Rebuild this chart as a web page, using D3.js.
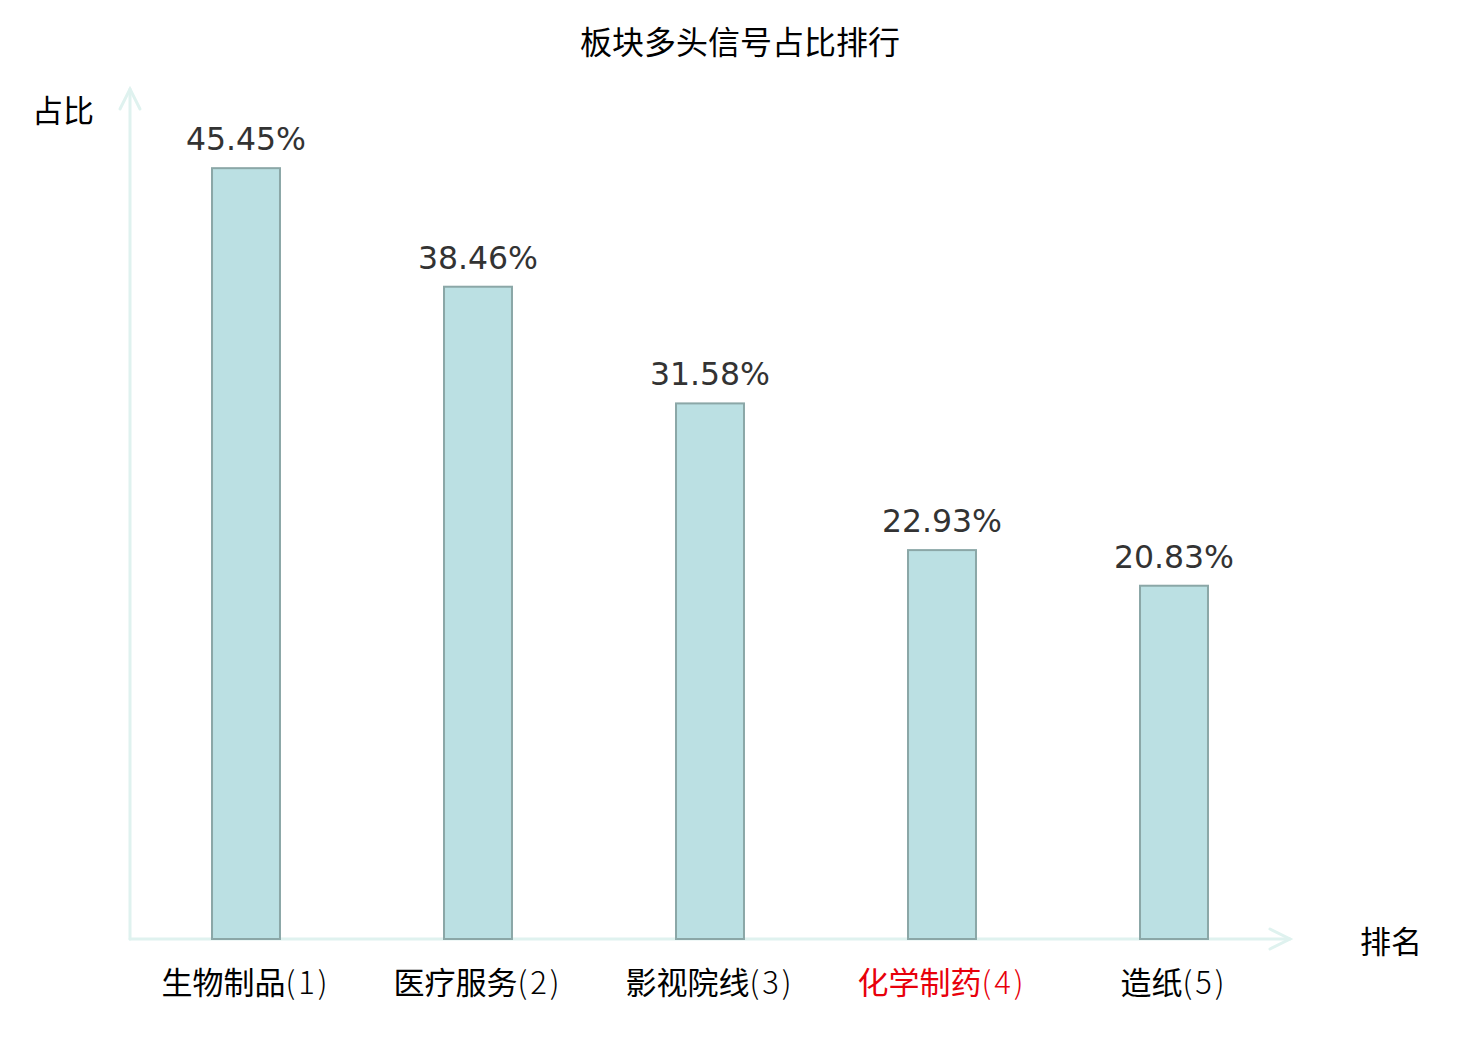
<!DOCTYPE html>
<html>
<head>
<meta charset="utf-8">
<script src="https://cdn.jsdelivr.net/npm/d3@7"></script>
<style>
  body { margin: 0; background: #fff; }
  text { font-family: "DejaVu Sans", "Noto Sans CJK SC", sans-serif; }
</style>
</head>
<body>
<div id="container"></div>
<script>
/* DATA */
const sectors = ["生物制品", "医疗服务", "影视院线", "化学制药", "造纸"];
const ranks = [1, 2, 3, 4, 5];
const shares = [45.45, 38.46, 31.58, 22.93, 20.83];
const highlight = "化学制药";   // drawn in red
const yMax = 50;

/* CONSTANTS */
const width = 1480,
  height = 1040,
  margin = {top: 91, bottom: 101, left: 130, right: 190};

const axisColor = "#dff2ef",
  barFill = "#bbe0e3",
  barStroke = "#8ba7a7",
  cjk = "'Noto Sans CJK SC', sans-serif";

const data = sectors.map((s, i) => ({sector: s, rank: ranks[i], share: shares[i]}));

// SCALES
const xScale = d3.scaleBand()
  .domain(sectors)
  .range([margin.left, width - margin.right])
  .padding(0);

const yScale = d3.scaleLinear()
  .domain([0, yMax])
  .range([height - margin.bottom, margin.top]);

const barW = xScale.bandwidth() * 0.293;

// SVG
const svg = d3.select("#container")
  .append("svg")
  .attr("width", width)
  .attr("height", height);

// title
svg.append("text")
  .attr("x", width / 2)
  .attr("y", 54)
  .attr("text-anchor", "middle")
  .style("font-family", cjk)
  .style("font-size", "32px")
  .style("font-weight", 400)
  .attr("fill", "#000")
  .text("板块多头信号占比排行");

// AXES (line + open arrow heads)
const x0 = margin.left, y0 = yScale(0);
const xEnd = width - margin.right, yEnd = yScale(yMax) - 2;
const axes = svg.append("g")
  .attr("stroke", axisColor)
  .attr("stroke-width", 3)
  .attr("fill", "none")
  .attr("stroke-linecap", "round");

axes.append("line").attr("x1", x0).attr("y1", y0).attr("x2", xEnd).attr("y2", y0);
axes.append("line").attr("x1", x0).attr("y1", y0).attr("x2", x0).attr("y2", yEnd);
axes.append("path")
  .attr("d", `M${xEnd - 20},${y0 - 10}L${xEnd},${y0}L${xEnd - 20},${y0 + 10}`);
axes.append("path")
  .attr("d", `M${x0 - 10},${yEnd + 20}L${x0},${yEnd}L${x0 + 10},${yEnd + 20}`);

// axis names
svg.append("text")
  .attr("x", 63).attr("y", 122)
  .attr("text-anchor", "middle")
  .style("font-family", cjk)
  .style("font-size", "31px")
  .text("占比");

svg.append("text")
  .attr("x", 1391).attr("y", 953)
  .attr("text-anchor", "middle")
  .style("font-family", cjk)
  .style("font-size", "31px")
  .text("排名");

// BARS
svg.selectAll("rect.bar")
  .data(data)
  .join("rect")
  .attr("class", "bar")
  .attr("x", d => xScale(d.sector) + xScale.bandwidth() / 2 - barW / 2)
  .attr("y", d => yScale(d.share))
  .attr("width", barW)
  .attr("height", d => yScale(0) - yScale(d.share))
  .attr("fill", barFill)
  .attr("stroke", barStroke)
  .attr("stroke-width", 2);

// VALUE LABELS
svg.selectAll("text.value")
  .data(data)
  .join("text")
  .attr("class", "value")
  .attr("x", d => xScale(d.sector) + xScale.bandwidth() / 2)
  .attr("y", d => yScale(d.share) - 18)
  .attr("text-anchor", "middle")
  .style("font-family", "'DejaVu Sans', sans-serif")
  .style("font-size", "31.5px")
  .attr("fill", "#333")
  .text(d => d.share.toFixed(2) + "%");

// CATEGORY LABELS
const cats = svg.selectAll("text.cat")
  .data(data)
  .join("text")
  .attr("class", "cat")
  .attr("x", d => xScale(d.sector) + xScale.bandwidth() / 2)
  .attr("y", 994)
  .attr("text-anchor", "middle")
  .style("font-family", cjk)
  .style("font-size", "31px")
  .attr("fill", d => d.sector === highlight ? "#e8000b" : "#000");

cats.append("tspan").text(d => d.sector);
cats.append("tspan")
  .style("font-weight", 300)
  .style("letter-spacing", "3px")
  .text(d => `(${d.rank})`);
</script>
</body>
</html>
